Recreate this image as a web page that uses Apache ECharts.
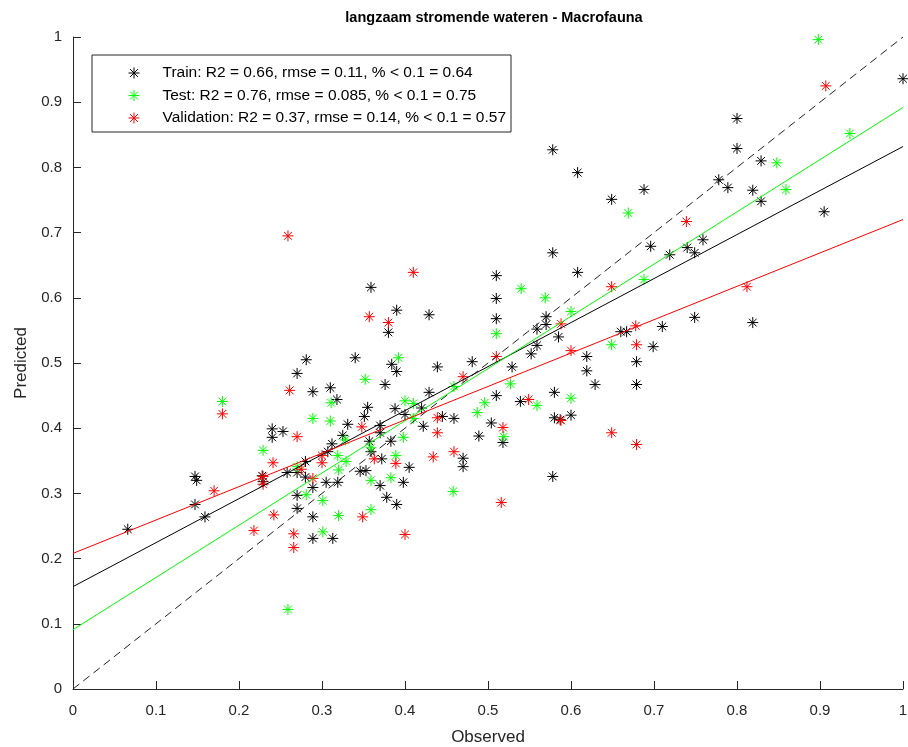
<!DOCTYPE html>
<html>
<head>
<meta charset="utf-8">
<script src="https://cdn.jsdelivr.net/npm/echarts@6/dist/echarts.min.js"></script>
<style>
  html, body { margin: 0; padding: 0; background: #fff; }
  #chart { width: 908px; height: 747px; }
</style>
</head>
<body>
<div id="chart"></div>
<script>
// Observed vs. predicted scores, macrofauna in slow-flowing waters
const trainObs = [0.066,0.147,0.147,0.149,0.159,0.228,0.229,0.240,0.240,0.253,0.258,0.270,0.270,0.270,0.280,0.280,0.281,0.270,0.289,0.310,0.318,0.289,0.289,0.289,0.313,0.305,0.319,0.307,0.312,0.325,0.331,0.340,0.346,0.353,0.351,0.355,0.359,0.359,0.357,0.370,0.370,0.372,0.370,0.378,0.380,0.383,0.384,0.390,0.390,0.390,0.388,0.398,0.376,0.400,0.405,0.420,0.422,0.429,0.429,0.439,0.445,0.459,0.470,0.470,0.481,0.489,0.504,0.510,0.510,0.510,0.510,0.518,0.529,0.539,0.552,0.559,0.559,0.570,0.570,0.585,0.578,0.578,0.580,0.580,0.587,0.600,0.578,0.608,0.608,0.619,0.619,0.629,0.649,0.660,0.667,0.679,0.679,0.688,0.696,0.699,0.710,0.719,0.740,0.749,0.749,0.759,0.778,0.789,0.800,0.800,0.819,0.819,0.829,0.829,0.905,1.000];
const trainPred = [0.245,0.283,0.326,0.320,0.264,0.327,0.318,0.399,0.386,0.395,0.332,0.332,0.297,0.277,0.349,0.325,0.505,0.484,0.456,0.462,0.444,0.309,0.264,0.231,0.231,0.317,0.317,0.364,0.376,0.389,0.406,0.508,0.334,0.335,0.418,0.432,0.616,0.364,0.380,0.404,0.393,0.353,0.312,0.294,0.547,0.380,0.498,0.487,0.581,0.283,0.430,0.317,0.467,0.421,0.340,0.431,0.403,0.455,0.574,0.494,0.418,0.415,0.354,0.341,0.502,0.388,0.408,0.634,0.599,0.568,0.450,0.378,0.494,0.441,0.514,0.527,0.552,0.571,0.559,0.540,0.827,0.669,0.455,0.416,0.413,0.420,0.326,0.792,0.639,0.510,0.488,0.467,0.751,0.548,0.548,0.502,0.467,0.766,0.679,0.525,0.556,0.666,0.677,0.669,0.570,0.689,0.781,0.769,0.875,0.829,0.765,0.562,0.810,0.748,0.732,0.936];

const testObs = [0.180,0.229,0.259,0.270,0.281,0.289,0.301,0.301,0.310,0.311,0.319,0.320,0.329,0.320,0.328,0.352,0.359,0.359,0.359,0.383,0.389,0.392,0.398,0.400,0.410,0.410,0.458,0.459,0.487,0.496,0.510,0.519,0.527,0.540,0.559,0.569,0.600,0.600,0.649,0.669,0.688,0.848,0.859,0.898,0.936];
const testPred = [0.441,0.366,0.122,0.341,0.298,0.415,0.289,0.241,0.411,0.439,0.358,0.336,0.349,0.266,0.382,0.475,0.370,0.320,0.275,0.324,0.358,0.508,0.386,0.442,0.438,0.415,0.303,0.464,0.424,0.439,0.545,0.387,0.468,0.614,0.435,0.600,0.579,0.446,0.528,0.730,0.628,0.807,0.766,0.996,0.852];

const valObs = [0.170,0.180,0.218,0.229,0.229,0.241,0.242,0.259,0.261,0.266,0.266,0.270,0.275,0.289,0.300,0.300,0.348,0.349,0.357,0.363,0.380,0.389,0.400,0.410,0.434,0.439,0.439,0.459,0.470,0.510,0.516,0.518,0.549,0.588,0.588,0.600,0.649,0.649,0.678,0.679,0.679,0.739,0.812,0.907];
const valPred = [0.304,0.422,0.243,0.326,0.314,0.347,0.267,0.695,0.458,0.238,0.217,0.387,0.337,0.323,0.358,0.347,0.402,0.264,0.571,0.353,0.562,0.346,0.237,0.639,0.356,0.416,0.393,0.364,0.479,0.510,0.286,0.401,0.444,0.560,0.412,0.519,0.617,0.393,0.557,0.528,0.375,0.717,0.617,0.925];

// Least-squares fit lines per set: intercept and slope
const fitIntercept = [0.157, 0.091, 0.208];
const fitSlope = [0.675, 0.801, 0.512];

const setNames = [
  'Train: R2 = 0.66, rmse = 0.11, % < 0.1 = 0.64',
  'Test: R2 = 0.76, rmse = 0.085, % < 0.1 = 0.75',
  'Validation: R2 = 0.37, rmse = 0.14, % < 0.1 = 0.57'
];
const setColors = ['#000000', '#00ff00', '#ff0000'];
const axisTicks = [0, 0.1, 0.2, 0.3, 0.4, 0.5, 0.6, 0.7, 0.8, 0.9, 1];

const FONT = '"Liberation Sans", Arial, Helvetica, sans-serif';
const AXIS_COLOR = '#262626';
// eight-armed asterisk marker, stroked only
const STAR = 'path://M5 0 L5 10 M0 5 L10 5 M1.46 1.46 L8.54 8.54 M1.46 8.54 L8.54 1.46';

const pairs = (xs, ys) => xs.map((x, i) => [x, ys[i]]);
const sets = [pairs(trainObs, trainPred), pairs(testObs, testPred), pairs(valObs, valPred)];

const scatterSeries = sets.map((d, i) => ({
  type: 'scatter',
  name: setNames[i],
  data: d,
  symbol: STAR,
  symbolSize: 11,
  itemStyle: { color: 'none', borderColor: setColors[i], borderWidth: 1, opacity: 1 },
  emphasis: { disabled: true },
  z: 2
}));

const fitSeries = fitIntercept.map((b, i) => ({
  type: 'line',
  data: [[0, b], [1, b + fitSlope[i]]],
  symbol: 'none',
  lineStyle: { color: setColors[i], width: 1 },
  silent: true,
  z: 3
}));

const identitySeries = {
  type: 'line',
  data: [[axisTicks[0], axisTicks[0]], [axisTicks[axisTicks.length - 1], axisTicks[axisTicks.length - 1]]],
  symbol: 'none',
  lineStyle: { color: '#222', width: 1, type: [8, 5] },
  silent: true,
  z: 3
};

const axisCommon = {
  type: 'value',
  min: 0,
  max: 1,
  interval: 0.1,
  splitLine: { show: false },
  axisLine: { show: true, lineStyle: { color: AXIS_COLOR, width: 1 } },
  axisTick: { show: true, inside: true, length: 8, lineStyle: { color: AXIS_COLOR } },
  axisLabel: { color: AXIS_COLOR, fontFamily: FONT, fontSize: 15 },
  nameLocation: 'middle',
  nameTextStyle: { color: AXIS_COLOR, fontFamily: FONT, fontSize: 17 }
};

const chart = echarts.init(document.getElementById('chart'), null, { renderer: 'canvas' });
chart.setOption({
  animation: false,
  backgroundColor: '#ffffff',
  title: {
    text: 'langzaam stromende wateren - Macrofauna',
    left: 489,
    textAlign: 'center',
    top: 5,
    textStyle: { fontFamily: FONT, fontSize: 14.5, fontWeight: 'bold', color: '#000' }
  },
  grid: { left: 73, right: 5, top: 37, bottom: 58, containLabel: false, outerBoundsMode: 'none' },
  xAxis: Object.assign({}, axisCommon, {
    name: 'Observed',
    nameGap: 40,
    axisLabel: Object.assign({}, axisCommon.axisLabel, { margin: 14 })
  }),
  yAxis: Object.assign({}, axisCommon, {
    name: 'Predicted',
    nameGap: 43,
    axisLabel: Object.assign({}, axisCommon.axisLabel, { margin: 11 })
  }),
  legend: {
    orient: 'vertical',
    left: 92,
    top: 55,
    data: setNames.map((n, i) => ({
      name: n,
      icon: STAR,
      itemStyle: { color: 'none', borderColor: setColors[i], borderWidth: 1 }
    })),
    itemWidth: 11,
    itemHeight: 11,
    itemGap: 4.5,
    padding: [9, 5, 5, 34],
    backgroundColor: '#ffffff',
    borderColor: AXIS_COLOR,
    borderWidth: 1,
    borderRadius: 0,
    selectedMode: false,
    textStyle: { fontFamily: FONT, fontSize: 15.5, color: '#000', lineHeight: 18, padding: [0, 0, 0, 18] },
    z: 10
  },
  series: [...scatterSeries, identitySeries, ...fitSeries]
});
</script>
</body>
</html>
